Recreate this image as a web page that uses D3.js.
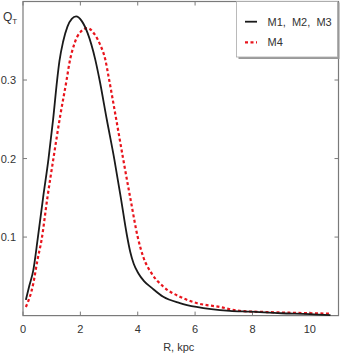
<!DOCTYPE html>
<html>
<head>
<meta charset="utf-8">
<script src="https://cdn.jsdelivr.net/npm/d3@7"></script>
<style>
  body { margin: 0; background: #fff; }
  text { font-family: "Liberation Sans", Arial, sans-serif; fill: #333; }
</style>
</head>
<body>
<div class="chart"></div>
<script>
// values: radius (kpc) and Q_T
const blackR = [0.10, 0.22, 0.36, 0.51, 0.70, 0.89, 1.05, 1.19, 1.27, 1.40, 1.55, 1.70, 1.85, 2.05, 2.25, 2.52, 2.67, 2.92, 3.18, 3.42, 3.62, 3.74, 3.86, 4.02, 4.22, 4.50, 4.89, 5.47, 6.05, 7.21, 7.91, 9.00, 10.0, 10.72];
const blackQ = [0.020, 0.038, 0.058, 0.097, 0.150, 0.200, 0.250, 0.300, 0.324, 0.349, 0.368, 0.378, 0.381, 0.375, 0.360, 0.326, 0.300, 0.250, 0.200, 0.148, 0.103, 0.081, 0.066, 0.054, 0.044, 0.035, 0.024, 0.016, 0.011, 0.006, 0.005, 0.003, 0.002, 0.0005];

const redR = [0.10, 0.36, 0.50, 0.65, 0.85, 1.06, 1.30, 1.52, 1.62, 1.79, 2.00, 2.25, 2.50, 2.69, 2.87, 2.98, 3.25, 3.49, 3.75, 4.00, 4.20, 4.48, 4.89, 5.47, 6.05, 6.86, 7.56, 8.50, 9.50, 10.72];
const redQ = [0.011, 0.041, 0.070, 0.097, 0.150, 0.200, 0.255, 0.300, 0.322, 0.346, 0.361, 0.366, 0.358, 0.345, 0.326, 0.305, 0.250, 0.200, 0.148, 0.100, 0.074, 0.054, 0.037, 0.024, 0.016, 0.011, 0.006, 0.0045, 0.0035, 0.0025];

const xTicks = [0, 2, 4, 6, 8, 10];
const yTicks = [0.1, 0.2, 0.3];
const legendNames = ["M1,  M2,  M3", "M4"];

const width = 341, height = 355;
const plotLeft = 23, plotRight = 338.5, plotTop = 1.5, plotBottom = 315.6;

const svg = d3.select(".chart").append("svg")
    .attr("width", width)
    .attr("height", height)

const x = d3.scaleLinear().domain([0, 11]).range([plotLeft, plotRight]);
const y = d3.scaleLinear().domain([0, 0.4]).range([plotBottom, plotTop]);

// frame and inward ticks on all four sides
const axisColor = "#7a7a7a";
svg.append("rect")
    .attr("x", plotLeft).attr("y", plotTop)
    .attr("width", plotRight - plotLeft).attr("height", plotBottom - plotTop)
    .attr("fill", "none").attr("stroke", axisColor).attr("stroke-width", 1.2);

const tickLen = 4;
const ticks = svg.append("g").attr("stroke", axisColor).attr("stroke-width", 1);
xTicks.forEach(t => {
    ticks.append("line").attr("x1", x(t)).attr("x2", x(t)).attr("y1", plotBottom).attr("y2", plotBottom - tickLen);
    ticks.append("line").attr("x1", x(t)).attr("x2", x(t)).attr("y1", plotTop).attr("y2", plotTop + tickLen);
});
yTicks.forEach(t => {
    ticks.append("line").attr("x1", plotLeft).attr("x2", plotLeft + tickLen).attr("y1", y(t)).attr("y2", y(t));
    ticks.append("line").attr("x1", plotRight).attr("x2", plotRight - tickLen).attr("y1", y(t)).attr("y2", y(t));
});

svg.append("g").selectAll("text")
    .data(xTicks)
    .join("text")
    .attr("x", d => x(d))
    .attr("y", 333)
    .attr("text-anchor", "middle")
    .style("font-size", "11px")
    .text(d => d);

svg.append("g").selectAll("text")
    .data(yTicks)
    .join("text")
    .attr("x", 16)
    .attr("y", d => y(d) + 4)
    .attr("text-anchor", "end")
    .style("font-size", "11px")
    .text(d => d3.format(".1f")(d));

svg.append("text")
    .attr("x", (plotLeft + plotRight) / 2 - 2)
    .attr("y", 351)
    .attr("text-anchor", "middle")
    .style("font-size", "11px")
    .text("R, kpc");

const qLabel = svg.append("text")
    .attr("x", 3)
    .attr("y", 21)
    .style("font-size", "12px");
qLabel.append("tspan").text("Q");
qLabel.append("tspan").attr("dy", 3).style("font-size", "8px").text("T");

// curves
const line = d3.line()
    .x(d => x(d[0]))
    .y(d => y(d[1]))
    .curve(d3.curveMonotoneX);

svg.append("path")
    .datum(d3.zip(redR, redQ))
    .attr("fill", "none")
    .attr("stroke", "#e8141c")
    .attr("stroke-width", 2.2)
    .attr("stroke-dasharray", "3,2.5")
    .attr("d", line);

svg.append("path")
    .datum(d3.zip(blackR, blackQ))
    .attr("fill", "none")
    .attr("stroke", "#1a1a1a")
    .attr("stroke-width", 1.8)
    .attr("d", line);

// legend box with a small shadow
const lg = svg.append("g");
lg.append("rect")
    .attr("x", 238.5).attr("y", plotTop + 1)
    .attr("width", plotRight - 237.5).attr("height", 56.5)
    .attr("fill", "#999");
lg.append("rect")
    .attr("x", 236.5).attr("y", plotTop)
    .attr("width", plotRight - 236.5 - 1).attr("height", 55.5)
    .attr("fill", "#fff").attr("stroke", "#aaa").attr("stroke-width", 0.8);

const legendStyles = [
    { stroke: "#1a1a1a", dash: null, w: 1.8 },
    { stroke: "#e8141c", dash: "3,2.5", w: 2.2 }
];
legendNames.forEach((name, i) => {
    const ly = 21.7 + i * 20.6;
    lg.append("line")
        .attr("x1", 245).attr("x2", 257)
        .attr("y1", ly).attr("y2", ly)
        .attr("stroke", legendStyles[i].stroke)
        .attr("stroke-width", legendStyles[i].w)
        .attr("stroke-dasharray", legendStyles[i].dash);
    lg.append("text")
        .attr("x", 267.5)
        .attr("y", ly + 4)
        .style("font-size", "11px")
        .style("white-space", "pre")
        .attr("xml:space", "preserve")
        .text(name);
});
</script>
</body>
</html>
